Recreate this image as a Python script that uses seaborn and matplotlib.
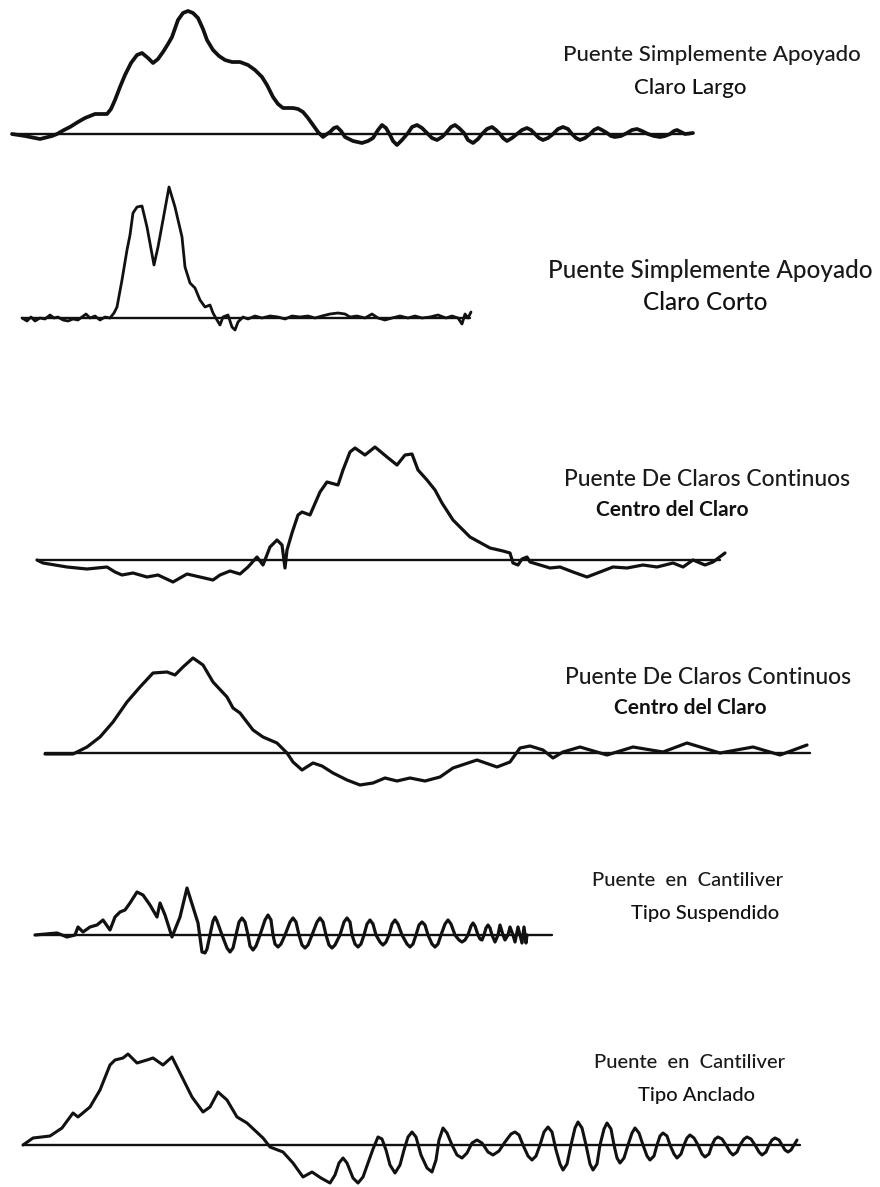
import numpy as np
import pandas as pd
import matplotlib
matplotlib.use("Agg")
import matplotlib.pyplot as plt
import seaborn as sns

# ---------------------------------------------------------------
# Deflection records (time along the record, deflection above the
# zero line, positive upward) for six bridge types
# ---------------------------------------------------------------
t_largo = [0, 13, 28, 40, 45, 52, 58, 66, 73, 83, 95, 99, 103, 108, 113, 119, 125, 130, 136, 141, 146,
           151, 156, 160, 166, 171, 176, 181, 186, 191, 195, 201, 207, 213, 220, 228, 236, 243, 250,
           255, 261, 266, 271, 281, 286, 291, 296, 301, 306, 311, 315, 318, 322, 325, 329, 333, 341,
           350, 356, 361, 366, 370, 374, 378, 381, 385, 390, 396, 400, 405, 410, 415, 420, 425, 430,
           434, 439, 443, 447, 452, 456, 461, 466, 470, 475, 480, 484, 488, 491, 495, 500, 505, 510,
           515, 519, 523, 527, 531, 536, 541, 546, 551, 556, 560, 564, 568, 573, 578, 582, 586, 590,
           595, 599, 603, 609, 615, 620, 625, 630, 636, 642, 648, 653, 658, 662, 665, 669, 673, 681]
d_largo = [0, -2, -5, -2, 0, 4, 7, 12, 16, 20, 20, 25, 34, 47, 59, 71, 79, 81, 76, 71, 75,
           82, 90, 97, 114, 121, 123, 121, 116, 105, 94, 84, 78, 74, 72, 72, 69, 64, 57,
           49, 37, 30, 26, 26, 25, 22, 16, 9, 2, -3, 0, 2, 6, 7, 3, -3, -7,
           -9, -7, -4, 4, 9, 6, -1, -7, -11, -6, 1, 7, 9, 6, 1, -4, -6, -3,
           1, 7, 9, 6, 1, -6, -9, -5, 0, 5, 7, 4, 0, -4, -7, -4, 0, 4,
           6, 4, 0, -4, -6, -4, 0, 5, 7, 5, 0, -4, -6, -4, 0, 4, 6, 4,
           1, -2, -3, -2, 1, 4, 5, 3, 0, -2, -3, -2, 0, 3, 4, 2, 0, 1]

t_corto = [0, 5, 9, 13, 18, 23, 28, 32, 36, 41, 46, 51, 56, 60, 64, 68, 73, 78, 83, 88, 92, 95,
           100, 105, 108, 111, 115, 120, 125, 132, 136, 141, 147, 153, 160, 163, 168, 173, 178,
           183, 188, 191, 195, 198, 201, 206, 210, 213, 216, 221, 226, 233, 240, 248, 256, 263,
           270, 278, 286, 293, 300, 308, 316, 323, 328, 335, 343, 350, 356, 363, 370, 378, 386,
           393, 400, 408, 416, 424, 430, 436, 440, 443, 446, 449]
d_corto = [0, -3, 1, -3, 0, -1, 3, 0, 1, -2, -3, -1, -2, 1, 4, 0, 2, -2, 1, 0, 5, 11,
           38, 68, 83, 105, 111, 112, 91, 53, 71, 98, 131, 111, 81, 51, 35, 30, 18,
           11, 13, 5, -2, -7, 1, 3, -9, -12, -4, 1, -1, 2, 0, 2, 1, -1,
           2, 1, 2, 0, 2, 4, 5, 4, 1, 2, 0, 4, 0, -2, 0, 2, 0,
           2, 0, 1, 3, 0, 2, 0, -6, 4, 0, 6]

t_cont_a = [0, 6, 30, 50, 70, 78, 85, 96, 110, 121, 136, 150, 163, 176, 183, 193, 203, 211, 220,
            226, 233, 240, 245, 248, 250, 255, 261, 265, 273, 283, 290, 301, 306, 313, 318, 328,
            338, 350, 360, 368, 375, 381, 390, 398, 405, 416, 433, 453, 466, 473, 476, 481, 485,
            490, 493, 503, 513, 523, 536, 550, 563, 576, 590, 606, 620, 636, 646, 656, 668, 676, 688]
d_cont_a = [0, -3, -7, -9, -7, -12, -15, -13, -17, -15, -22, -14, -17, -20, -15, -11, -14, -7, 3,
            -5, 13, 20, 15, -8, 10, 27, 45, 48, 45, 68, 78, 75, 90, 108, 112, 105,
            113, 103, 95, 105, 106, 90, 80, 70, 57, 40, 23, 12, 9, 7, -3, -5, 1,
            3, -2, -5, -8, -7, -12, -17, -12, -7, -8, -5, -7, -3, -7, 0, -5, -2, 7]

t_cont_b = [0, 28, 42, 55, 68, 82, 95, 108, 122, 130, 138, 148, 158, 168, 182, 188, 195, 208, 218,
            232, 242, 248, 257, 268, 277, 288, 302, 315, 328, 340, 352, 365, 380, 395, 408, 432,
            452, 465, 475, 485, 498, 508, 518, 535, 562, 588, 618, 642, 675, 708, 735, 762]
d_cont_b = [-1, -1, 6, 16, 31, 51, 66, 80, 81, 78, 86, 95, 88, 71, 56, 45, 40, 23, 16,
            10, 0, -9, -17, -10, -13, -20, -27, -32, -30, -25, -28, -25, -28, -24, -15, -7,
            -14, -9, 5, 7, 3, -5, 1, 6, -2, 6, 1, 10, 0, 6, -2, 8]

t_susp = [0, 22, 32, 40, 43, 48, 55, 62, 68, 75, 80, 85, 90, 95, 102, 108, 115, 122, 125, 130,
          137, 145, 152, 158, 163, 167,
          170, 172, 175, 178, 180, 182, 187, 192, 195, 198, 201, 204, 207, 210, 213, 215, 218,
          221, 225, 230, 233, 236, 238, 240, 243, 246, 250, 255, 258, 261, 264, 267, 270, 273,
          277, 282, 285, 288, 291, 294, 297, 300, 305, 309, 312, 315, 317, 320, 323, 326, 329,
          332, 335, 338, 341, 345, 348, 351, 354, 357, 360, 363, 367, 372, 375, 378, 381, 384,
          387, 390, 393, 397, 400, 403, 406, 410, 413, 416, 420, 424, 427, 430, 433, 436, 438,
          440, 443, 445, 447, 449, 451, 453, 455, 457, 460, 463, 465, 468, 470, 473, 475, 478,
          480, 483, 487, 489, 491, 492]
d_susp = [0, 2, -2, 0, 8, 3, 8, 10, 15, 5, 18, 23, 25, 32, 43, 40, 30, 18, 32, 20,
          -2, 18, 47, 28, 12, -17,
          -18, -14, 0, 14, 18, 14, 0, -13, -17, -13, 0, 13, 17, 13, 0, -11, -15,
          -11, 0, 15, 20, 15, 0, -9, -12, -9, 0, 13, 17, 13, 0, -10, -13, -10,
          0, 13, 17, 13, 0, -10, -13, -10, 0, 13, 17, 13, 0, -9, -12, -9, 0,
          11, 15, 11, 0, -7, -10, -7, 0, 11, 15, 11, 0, -9, -12, -9, 0, 10,
          13, 10, 0, -9, -12, -9, 0, 11, 15, 11, 0, -5, -7, -5, 0, 9, 12,
          9, 0, -4, -5, 0, 7, 10, 7, 0, -7, 0, 10, 0, -5, 0, 8, 0,
          -7, 8, -8, 8, -8, 0]

t_ancl = [0, 10, 27, 39, 50, 55, 67, 77, 87, 92, 100, 105, 114, 124, 130, 140, 149, 159, 169,
          180, 187, 195, 204, 214, 224, 240, 247, 260, 270, 280, 289, 298, 307, 312, 316, 320,
          324, 330, 335, 340, 345, 350, 355, 359, 363, 367, 372, 377, 381, 385, 389, 393, 398,
          404, 409, 413, 416, 420, 424, 429, 434, 439, 444, 449, 454, 459, 465, 470, 476, 482,
          488, 492, 496, 500, 505, 509, 513, 517, 521, 525, 529, 533, 537, 540, 544, 548, 552,
          555, 559, 563, 567, 570, 574, 577, 581, 584, 588, 591, 594, 597, 601, 605, 609, 612,
          616, 620, 624, 627, 631, 634, 637, 640, 644, 647, 651, 654, 658, 661, 664, 667, 671,
          675, 679, 682, 686, 689, 692, 695, 699, 703, 707, 710, 714, 717, 721, 724, 728, 732,
          736, 739, 743, 746, 749, 752, 756, 759, 762, 765, 768, 771, 774]
d_ancl = [0, 7, 9, 17, 32, 28, 38, 55, 80, 85, 87, 91, 82, 85, 87, 80, 88, 68, 48,
          33, 38, 53, 45, 28, 22, 7, -2, -7, -18, -32, -27, -33, -38, -30, -18, -13,
          -18, -33, -38, -32, -18, -4, 8, 6, -5, -20, -28, -20, -5, 8, 13, 8, -10,
          -23, -27, -15, 5, 17, 12, 0, -10, -13, -8, 2, 5, 2, -7, -10, -6, 3,
          11, 13, 10, 0, -11, -15, -11, 0, 13, 18, 13, -5, -19, -25, -19, 0, 17,
          23, 17, 0, -19, -25, -19, 0, 16, 22, 16, 0, -13, -18, -13, 0, 12, 17,
          12, 0, -11, -15, -11, 0, 9, 12, 9, 0, -9, -13, -9, 0, 7, 10, 7,
          0, -9, -12, -9, 0, 6, 8, 6, 0, -7, -10, -7, 0, 6, 8, 6, 0,
          -7, -10, -7, 0, 5, 7, 5, 0, -5, -7, -5, 0, 5]

labels = [
    ("Puente Simplemente Apoyado", "Claro Largo"),
    ("Puente Simplemente Apoyado", "Claro Corto"),
    ("Puente De Claros Continuos", "Centro del Claro"),
    ("Puente De Claros Continuos", "Centro del Claro"),
    ("Puente  en  Cantiliver", "Tipo Suspendido"),
    ("Puente  en  Cantiliver", "Tipo Anclado"),
]

series = [(t_largo, d_largo), (t_corto, d_corto), (t_cont_a, d_cont_a),
          (t_cont_b, d_cont_b), (t_susp, d_susp), (t_ancl, d_ancl)]

# ---------------------------------------------------------------
# Page layout (pixel units): start x, zero-line y, zero-line end x,
# trace width
# ---------------------------------------------------------------
layout = [(12, 134, 690, 2.7), (22, 318, 470, 2.0), (37, 560, 720, 2.3),
          (45, 753, 810, 2.3), (35, 935, 552, 2.3), (23, 1145, 800, 2.2)]

# label placement: center x line 1, y line 1, y line 2, center x line 2, size, bold 2nd line
label_layout = [
    (712, 55, 88, 690, 16.0, False),
    (710, 270, 302, 705, 17.5, False),
    (707, 479, 510, 672, 16.5, True),
    (708, 677, 708, 690, 16.5, True),
    (688, 880, 913, 705, 14.5, False),
    (690, 1062, 1095, 697, 14.5, False),
]

sns.set_theme(style="white")
plt.rcParams["font.family"] = ["Lato", "DejaVu Sans"]

fig = plt.figure(figsize=(8.8, 11.87), dpi=100)
ax = fig.add_axes([0, 0, 1, 1])
ax.set_xlim(0, 880)
ax.set_ylim(1187, 0)
ax.axis("off")

ink = "#111111"

for (t, d), (x0, base, xend, lw) in zip(series, layout):
    # zero line
    zero = pd.DataFrame({"x": [x0, xend], "y": [base, base]})
    sns.lineplot(data=zero, x="x", y="y", ax=ax, color=ink, lw=1.7,
                 estimator=None, sort=False)
    # deflection trace
    df = pd.DataFrame({"x": x0 + np.asarray(t, float),
                       "y": base - np.asarray(d, float)})
    sns.lineplot(data=df, x="x", y="y", ax=ax, color=ink, lw=lw,
                 estimator=None, sort=False, solid_joinstyle="round",
                 solid_capstyle="round")

for (l1, l2), (cx1, y1, y2, cx2, fs, bold2) in zip(labels, label_layout):
    ax.text(cx1, y1, l1, ha="center", va="center", fontsize=fs,
            color="#1a1a1a", fontweight="medium")
    ax.text(cx2, y2, l2, ha="center", va="center",
            fontsize=fs if not bold2 else fs - 1.5,
            color="#111111", fontweight="bold" if bold2 else "medium")

ax.set_xlabel("")
ax.set_ylabel("")
fig.savefig("out.png", dpi=100, facecolor="white")
